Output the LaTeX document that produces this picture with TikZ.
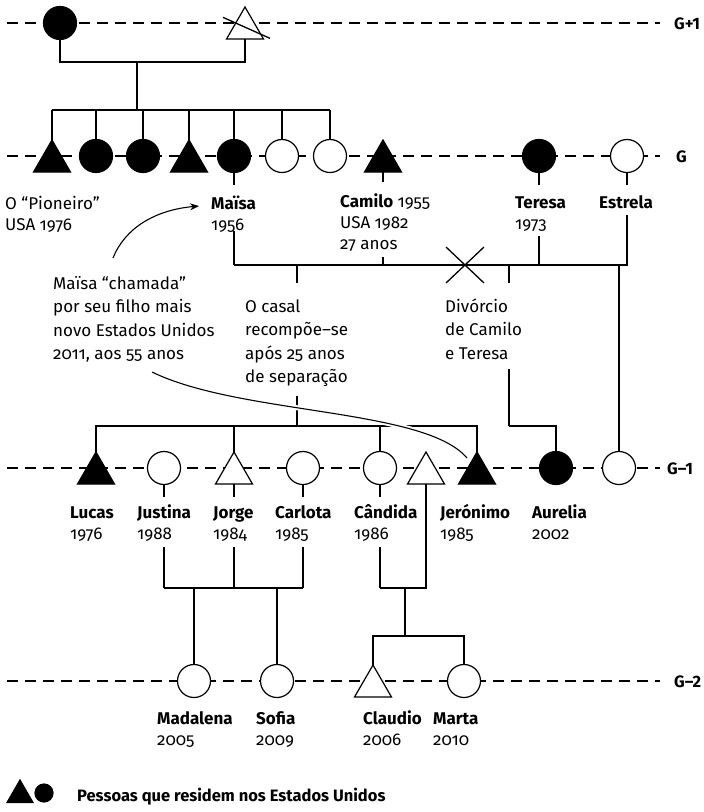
\documentclass[tikz,border=0pt]{standalone}
\usepackage{fontspec}
\setmainfont{Fira Sans}[Numbers=OldStyle]
\usetikzlibrary{shapes.geometric,arrows.meta}

\tikzset{
  gen/.style={line width=2pt, dash pattern=on 11pt off 7pt},
  link/.style={line width=1.3pt},
  fem/.style={circle, draw, line width=1.2pt, fill=white, minimum size=33pt, inner sep=0pt, outer sep=0pt},
  femus/.style={fem, fill=black},
  mal/.style={regular polygon, regular polygon sides=3, draw, line width=1.2pt, fill=white,
              minimum size=42.7pt, inner sep=0pt, outer sep=0pt},
  malus/.style={mal, fill=black},
  % anchored at the baseline of the last line
  who/.style={anchor=base west, inner sep=0pt, align=left, font=\fontsize{17}{21}\selectfont},
  note/.style={anchor=base west, inner sep=0pt, align=left, font=\fontsize{17}{23.5}\selectfont},
  genlab/.style={anchor=base west, inner sep=0pt,
                 font=\bfseries\fontsize{16.5}{18}\selectfont\addfontfeatures{Numbers=Lining}},
}

\begin{document}
\begin{tikzpicture}[x=1pt,y=-1pt]
\useasboundingbox (0,0) rectangle (704,812);

% generation rules
\draw[gen] (7,23) -- (660,23);
\draw[gen] (7,156) -- (660,156);
\draw[gen] (7,468) -- (660,468);
\draw[gen] (7,681) -- (660,681);
\node[genlab] (lg1) at (674,29) {G+1};
\node[genlab] (lg0) at (676,162) {G};
\node[genlab] (lgm1) at (667,474) {G–1};
\node[genlab] (lgm2) at (674,687) {G–2};

% G+1
\node[femus] (gm) at (60,23) {};
\node[mal] (gf) at (245,28.35) {};
\draw[link] ([shift={(-22,-11)}]gf.center) -- ([shift={(25,10)}]gf.center);

% G
\node[malus] (p1) at (52,161.35) {};
\node[femus] (p2) at (96,156) {};
\node[femus] (p3) at (143,156) {};
\node[malus] (p4) at (189,161.35) {};
\node[femus] (maisa) at (234,156) {};
\node[fem] (p6) at (282,156) {};
\node[fem] (p7) at (330,156) {};
\node[malus] (camilo) at (383,161.35) {};
\node[femus] (teresa) at (539,156) {};
\node[fem] (estrela) at (627,156) {};

% G-1
\node[malus] (lucas) at (96,473.35) {};
\node[fem] (justina) at (164,468) {};
\node[mal] (jorge) at (234,473.35) {};
\node[fem] (carlota) at (303,468) {};
\node[fem] (candida) at (380,468) {};
\node[mal] (cpart) at (426,473.35) {};
\node[malus] (jeronimo) at (477,473.35) {};
\node[femus] (aurelia) at (556,468) {};
\node[fem] (q) at (619,468) {};

% G-2
\node[fem] (madalena) at (194,681) {};
\node[fem] (sofia) at (277,681) {};
\node[mal] (claudio) at (373,686.35) {};
\node[fem] (marta) at (464,681) {};

% G+1 couple and their children
\coordinate (a1) at (137,62);
\coordinate (a2) at (137,110);
\draw[link] (gm.south) |- (a1) -| (gf.south);
\draw[link] (a1) -- (a2);
\draw[link] (p1.north |- a2) -- (p7.north |- a2);
\foreach \n in {p1,p2,p3,p4,maisa,p6,p7}
  \draw[link] (\n.north) -- (\n.north |- a2);

% couple line of generation G
\coordinate (b) at (0,265);
\draw[link] (maisa.south) -- +(0,12.5);
\draw[link] (maisa.south |- b) -- +(0,-34);
\draw[link] (maisa.south |- b) -- (estrela.south |- b) -- +(0,-50);
\draw[link] (estrela.south) -- +(0,12.5);
\draw[link] (camilo.south) -- +(0,10);
\draw[link] (camilo.south |- b) -- +(0,-8);
\draw[link] (teresa.south) -- +(0,12.5);
\draw[link] (teresa.south |- b) -- +(0,-29);
\coordinate (x) at (465,265);
\draw[link] ([shift={(-19,-18)}]x) -- ([shift={(19,18)}]x);
\draw[link] ([shift={(19,-18)}]x) -- ([shift={(-19,18)}]x);

% Maïsa + Camilo: children
\coordinate (r) at (297,265);
\coordinate (s) at (297,426);
\draw[link] (r) -- +(0,18);
\draw[link] (s) -- +(0,-30);
\draw[link] (lucas.north) -- (lucas.north |- s) -- (jeronimo.north |- s) -- (jeronimo.north);
\draw[link] (jorge.north) -- (jorge.north |- s);
\draw[link] (candida.north) -- (candida.north |- s);

% Camilo + Teresa: Aurelia
\coordinate (d) at (509,265);
\draw[link] (d) -- +(0,18);
\draw[link] (d |- s) -- +(0,-57);
\draw[link] (d |- s) -| (aurelia.north);

% Estrela line
\coordinate (e) at (619,265);
\draw[link] (e) -- (q.north);

% Justina, Jorge, Carlota: Madalena and Sofia
\coordinate (m) at (0,588);
\draw[link] (justina.south) -- +(0,12.5);
\draw[link] (jorge.south) -- +(0,12.5);
\draw[link] (carlota.south) -- +(0,12.5);
\draw[link] (justina.south |- m) -- +(0,-41);
\draw[link] (jorge.south |- m) -- +(0,-41);
\draw[link] (carlota.south |- m) -- +(0,-41);
\draw[link] (justina.south |- m) -- (carlota.south |- m);
\draw[link] (madalena.north) -- (madalena.north |- m);
\draw[link] (sofia.north) -- (sofia.north |- m);

% Cândida + partner: Claudio and Marta
\draw[link] (candida.south) -- +(0,12.5);
\draw[link] (candida.south |- m) -- +(0,-41);
\draw[link] (candida.south |- m) -- (cpart.south |- m) -- (cpart.south);
\coordinate (k1) at (405,588);
\coordinate (k2) at (405,636);
\draw[link] (k1) -- (k2);
\draw[link] (claudio.north) |- (k2) -| (marta.north);

% names and dates
\node[who] (tpio) at (5,230) {O “Pioneiro”\\USA 1976};
\node[who] (tmaisa) at (211,230) {\textbf{Maïsa}\\1956};
\node[who] (tcamilo) at (340,249) {\textbf{Camilo} 1955\\USA 1982\\27 anos};
\node[who] (tteresa) at (515,229) {\textbf{Teresa}\\1973};
\node[who] (testrela) at (599,208) {\textbf{Estrela}};

\node[who] (tlucas) at (70,539) {\textbf{Lucas}\\1976};
\node[who] (tjustina) at (137,539) {\textbf{Justina}\\1988};
\node[who] (tjorge) at (213,539) {\textbf{Jorge}\\1984};
\node[who] (tcarlota) at (275,539) {\textbf{Carlota}\\1985};
\node[who] (tcandida) at (354,539) {\textbf{Cândida}\\1986};
\node[who] (tjeronimo) at (440,539) {\textbf{Jerónimo}\\1985};
\node[who] (taurelia) at (532,539) {\textbf{Aurelia}\\2002};

\node[who] (tmadalena) at (157,745) {\textbf{Madalena}\\2005};
\node[who] (tsofia) at (256,745) {\textbf{Sofia}\\2009};
\node[who] (tclaudio) at (363,745) {\textbf{Claudio}\\2006};
\node[who] (tmarta) at (433,745) {\textbf{Marta}\\2010};

% notes
\node[note] (nchamada) at (53,359.5) {Maïsa “chamada”\\por seu filho mais\\novo Estados Unidos\\2011, aos 55 anos};
\node[note] (ncasal) at (245,382.5) {O casal\\recompõe–se\\após 25 anos\\de separação};
\node[note] (ndiv) at (445,359) {Divórcio\\de Camilo\\e Teresa};

% migration path of Maïsa
\coordinate (cs) at (152,372);
\coordinate (ce) at (467,458);
\draw[line width=1.1pt, preaction={draw=white, line width=5pt}] (cs) .. controls (240,415) and (425,408) .. (ce);
\coordinate (as) at (113,258);
\coordinate (at) at (199,206);
\draw[line width=1.1pt, -{Stealth[length=9pt,width=7pt]}] (as) .. controls (125,228) and (155,210) .. (at);

% legend
\node[malus, minimum size=30pt] (legt) at (20,795) {};
\node[femus, minimum size=18pt] (legc) at (44,793) {};
\node[anchor=base west, inner sep=0pt, font=\bfseries\fontsize{16.5}{21}\selectfont] (legtxt) at (77,801)
  {Pessoas que residem nos Estados Unidos};
\end{tikzpicture}
\end{document}
